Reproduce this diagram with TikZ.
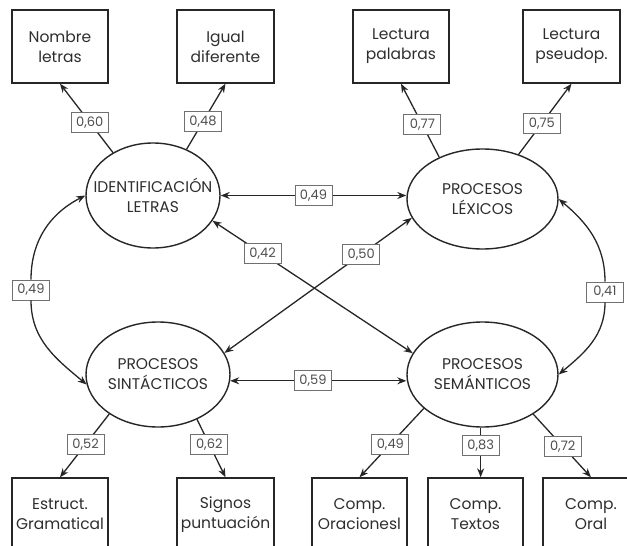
\documentclass[tikz,border=0pt]{standalone}
\usepackage{fontspec}
\setmainfont{Poppins}
\usetikzlibrary{shapes.geometric,arrows.meta}
\definecolor{ink}{HTML}{262626}
\definecolor{txt}{HTML}{2E2E2E}
\definecolor{lbl}{HTML}{707070}
\definecolor{lbltxt}{HTML}{4E4E4E}
\begin{document}
\begin{tikzpicture}[x=1pt,y=1pt,
 obs/.style={draw=ink, line width=1.4pt, minimum width=96pt, minimum height=73pt, inner sep=0pt, align=center, text=txt, font=\fontsize{15.5}{20}\selectfont},
 lat/.style={ellipse, draw=ink, line width=1.4pt, inner sep=0pt},
 lattext/.style={align=center, text=txt, font=\fontsize{15.5}{20}\selectfont, inner sep=0pt},
 coef/.style={draw=lbl, fill=white, line width=0.9pt, minimum width=37pt, minimum height=20pt, inner sep=0pt, text=lbltxt, font=\fontsize{13}{14}\selectfont},
 conn/.style={draw=ink, line width=1.3pt, -{Stealth[length=9pt,width=7pt]}},
 both/.style={draw=ink, line width=1.3pt, {Stealth[length=9pt,width=7pt]}-{Stealth[length=9pt,width=7pt]}}
]
\useasboundingbox (0,0) rectangle (627,-546);
\clip (0,0) rectangle (627,-546);

% observed boxes
\node[obs] (b1) at (60,-46.5) {Nombre\\letras};
\node[obs, minimum width=97pt] (b2) at (225.5,-46.5) {Igual\\diferente};
\node[obs] (b3) at (401,-46.5) {Lectura\\palabras};
\node[obs, minimum width=97pt] (b4) at (571.5,-46.5) {Lectura\\pseudop.};
\node[obs] (e1) at (60,-514.5) {Estruct.\\Gramatical};
\node[obs, minimum width=97pt] (e2) at (225.5,-514.5) {Signos\\puntuación};
\node[obs, minimum width=95pt] (e3) at (359.5,-514.5) {Comp.\\Oracionesl};
\node[obs, minimum width=95pt] (e4) at (475.5,-514.5) {Comp.\\Textos};
\node[obs] (e5) at (591,-514.5) {Comp.\\Oral};

% latent ellipses
\node[lat, minimum width=134pt, minimum height=105pt, label={[lattext]center:IDENTIFICACIÓN\\LETRAS}] (ID) at (153,-195.5) {};
\node[lat, minimum width=151pt, minimum height=100pt, label={[lattext]center:PROCESOS\\LÉXICOS}] (LEX) at (482.5,-199) {};
\node[lat, minimum width=144pt, minimum height=105pt, label={[lattext]center:PROCESOS\\SINTÁCTICOS}] (SIN) at (158,-374.5) {};
\node[lat, minimum width=151pt, minimum height=105pt, label={[lattext]center:PROCESOS\\SEMÁNTICOS}] (SEM) at (482.5,-374.5) {};

% loadings
\draw[conn] (ID.133) -- node[coef,pos=0.44]{0,60} (b1.south);
\draw[conn] (ID.54) -- node[coef,pos=0.42]{0,48} (b2.south);
\draw[conn] (LEX.136) -- node[coef,pos=0.44]{0,77} (b3.south);
\draw[conn] (LEX.51) -- node[coef,pos=0.44]{0,75} (b4.south);
\draw[conn] (SIN.219) -- node[coef,pos=0.48]{0,52} (e1.north);
\draw[conn] (SIN.311) -- node[coef,pos=0.43]{0,62} (e2.north);
\draw[conn] (SEM.210) -- node[coef,pos=0.52]{0,49} (e3.north);
\draw[conn] (SEM.268) -- node[coef,pos=0.36]{0,83} (SEM.268 |- e4.north);
\draw[conn] (SEM.322) -- node[coef,pos=0.51]{0,72} (e5.north);

% correlations
\draw[both] (ID.east) -- node[coef]{0,49} (ID.east -| LEX.west);
\draw[both] (SIN.-5) -- node[coef,pos=0.47]{0,59} (SIN.-5 -| SEM.west);
\draw[both] (ID.-23) -- node[coef,pos=0.25]{0,42} (SEM.163);
\draw[both] (LEX.195) -- node[coef,pos=0.27]{0,50} (SIN.18);

\node[coef] (L49) at (31,-290) {0,49};
\draw[conn] (L49) to[out=90,in=207] (ID.west);
\draw[conn] (L49) to[out=270,in=140] (SIN.188);
\node[coef] (R41) at (605,-292) {0,41};
\draw[conn] (R41) to[out=90,in=-40] (LEX.east);
\draw[conn] (R41) to[out=270,in=40] (SEM.east);
\end{tikzpicture}
\end{document}
